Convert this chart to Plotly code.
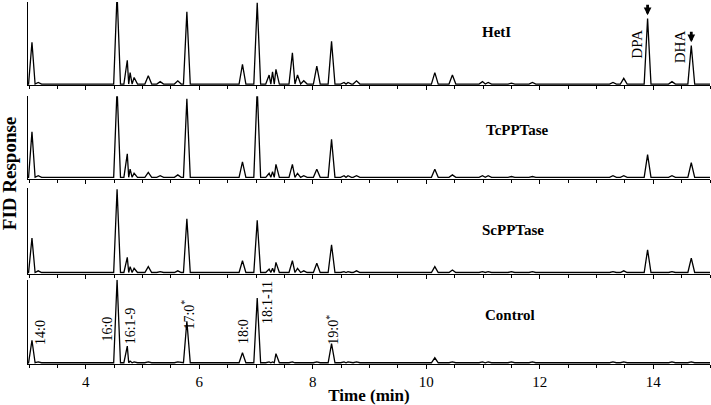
import plotly.graph_objects as go

# retention times (min) of peaks seen in the chromatograms
rt = [3.05, 3.16, 4.55, 4.73, 4.78, 4.85, 5.10, 5.31, 5.62, 5.78, 6.76, 7.02,
      7.23, 7.29, 7.35, 7.64, 7.73, 7.84, 8.07, 8.33, 8.55, 8.62, 8.77, 10.15,
      10.46, 10.99, 11.09, 11.50, 11.87, 13.29, 13.48, 13.90, 14.33, 14.67]

# peak heights, % of panel height (values > 100 run off the top)
heti = [51, 2, 110, 29, 14, 8, 10, 3, 4, 88, 24, 99, 11, 15, 18, 38, 11, 4, 22, 52,
        2, 2, 4, 14, 11, 3, 2, 1, 2, 2, 7, 80, 3, 47]
tcpptase = [56, 2, 110, 29, 10, 5, 6, 2, 3, 97, 19, 110, 5, 7, 16, 16, 5, 2, 10, 47,
            2, 2, 2, 10, 3, 2, 2, 1, 1, 2, 2, 28, 2, 18]
scpptase = [41, 2, 99, 18, 7, 5, 7, 1, 2, 64, 14, 62, 4, 5, 12, 14, 5, 2, 11, 33,
            1, 1, 2, 7, 3, 1, 1, 1, 1, 1, 2, 27, 1, 17]
control = [27, 1, 100, 20, 2, 1, 1, 0, 1, 50, 12, 78, 1, 1, 11, 1, 0, 0, 1, 23,
           1, 1, 1, 6, 1, 1, 1, 1, 1, 1, 1, 0, 1, 1]

samples = ["HetI", "TcPPTase", "ScPPTase", "Control"]
heights = [heti, tcpptase, scpptase, control]

# peak labels on the control trace
fa_names = ["14:0", "16:0", "16:1-9", "17:0<sup>*</sup>", "18:0", "18:1-11", "19:0<sup>*</sup>"]
fa_x = [3.19, 4.39, 4.78, 5.80, 6.77, 7.19, 8.34]
fa_y = [37, 40, 44, 58, 37, 73, 40]

x_start, x_end = 2.98, 15.0
half_w = 0.06


def trace_points(times, hts):
    # stitch a narrow peak around each retention time
    xs, ys = [x_start], [0]
    for i, (t, h) in enumerate(zip(times, hts)):
        left = t - half_w
        right = t + half_w
        if i > 0:
            left = max(left, (times[i - 1] + t) / 2)
        if i < len(times) - 1:
            right = min(right, (times[i + 1] + t) / 2)
        xs += [left, t, right]
        ys += [0, h, 0]
    xs.append(x_end)
    ys.append(0)
    return xs, ys


FONT = "Liberation Serif"
domains = [[0.7699, 1.0], [0.5123, 0.7397], [0.2493, 0.4849], [0.0, 0.2329]]
label_pos = [(11.24, 63), (11.60, 58), (11.53, 51), (11.47, 57)]

fig = go.Figure()
layout = {}
annotations = []
for i, (name, h) in enumerate(zip(samples, heights)):
    n = "" if i == 0 else str(i + 1)
    xs, ys = trace_points(rt, h)
    fig.add_trace(go.Scatter(x=xs, y=ys, mode="lines", name=name,
                             line=dict(color="black", width=1.3),
                             xaxis="x" + n, yaxis="y" + n, showlegend=False))
    bottom = i == 3
    layout["xaxis" + n] = dict(
        anchor="y" + n, range=[x_start, x_end], showgrid=False, zeroline=False,
        showline=True, linecolor="black", linewidth=1.3,
        tickvals=[4, 6, 8, 10, 12, 14], ticks="outside", ticklen=4, tickwidth=1,
        tickcolor="black", showticklabels=bottom,
        minor=dict(dtick=0.5, tick0=0, ticks="outside", ticklen=3, tickcolor="black"),
        tickfont=dict(family=FONT, size=15, color="black"),
    )
    if bottom:
        layout["xaxis" + n]["title"] = dict(text="<b>Time (min)</b>", standoff=2,
                                            font=dict(family=FONT, size=17, color="black"))
    else:
        layout["xaxis" + n]["matches"] = "x4"
    layout["yaxis" + n] = dict(
        anchor="x" + n, domain=domains[i], range=[-1.5, 100], showgrid=False,
        zeroline=False, showline=True, linecolor="black", linewidth=1.3,
        showticklabels=False, ticks="",
    )
    lx, ly = label_pos[i]
    annotations.append(dict(x=lx, y=ly, xref="x" + n, yref="y" + n, text="<b>%s</b>" % name,
                            showarrow=False, font=dict(family=FONT, size=15, color="black")))

for t, lab_x, lab_y in zip(fa_names, fa_x, fa_y):
    annotations.append(dict(x=lab_x, y=lab_y, xref="x4", yref="y4", text=t, textangle=-90,
                            showarrow=False, font=dict(family=FONT, size=14, color="black")))

# DPA / DHA marks on HetI
for t, px, py in [("DPA", 13.71, 49), ("DHA", 14.47, 46)]:
    annotations.append(dict(x=px, y=py, xref="x", yref="y", text=t, textangle=-90,
                            showarrow=False, font=dict(family=FONT, size=15, color="black")))
for ax_x, tip in [(13.90, 84), (14.67, 51)]:
    annotations.append(dict(x=ax_x, y=tip, xref="x", yref="y", text="", showarrow=True,
                            ax=0, ay=-12, arrowhead=2, arrowsize=0.55, arrowwidth=2.8,
                            arrowcolor="black"))

annotations.append(dict(x=-0.027, y=0.526, xref="paper", yref="paper", xanchor="center",
                        yanchor="middle", text="<b>FID Response</b>", textangle=-90,
                        showarrow=False, font=dict(family=FONT, size=19, color="black")))

fig.update_layout(
    width=711, height=405,
    margin=dict(l=28, r=1, t=2, b=38),
    plot_bgcolor="white", paper_bgcolor="white",
    annotations=annotations,
    **layout,
)

fig.write_html("out.html", config={"displayModeBar": False},
               post_script="document.body.style.margin='0';")
